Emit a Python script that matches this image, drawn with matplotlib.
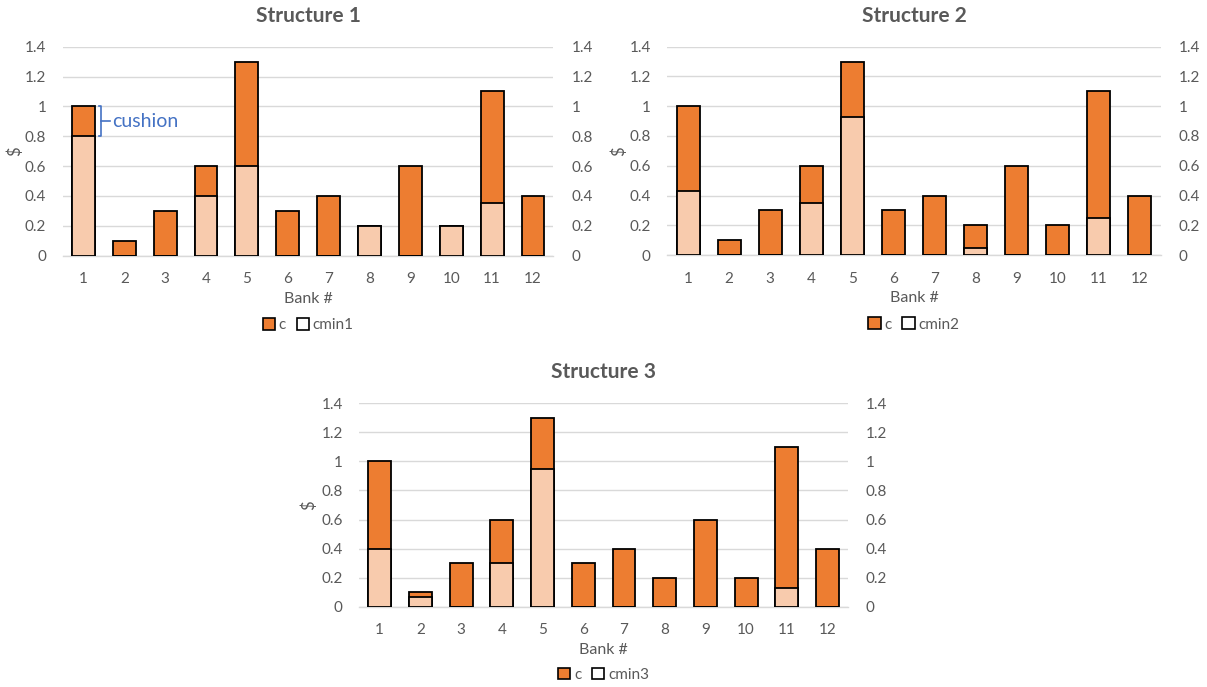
import matplotlib
matplotlib.use("Agg")
import matplotlib.pyplot as plt
from matplotlib.patches import Patch
import numpy as np

plt.rcParams['font.family'] = ['Lato', 'DejaVu Sans']

banks = [str(i) for i in range(1, 13)]
c = [1.0, 0.1, 0.3, 0.6, 1.3, 0.3, 0.4, 0.2, 0.6, 0.2, 1.1, 0.4]
cmin1 = [0.8, 0.0, 0.0, 0.4, 0.6, 0.0, 0.0, 0.2, 0.0, 0.2, 0.35, 0.0]
cmin2 = [0.43, 0.0, 0.0, 0.35, 0.93, 0.0, 0.0, 0.05, 0.0, 0.0, 0.25, 0.0]
cmin3 = [0.4, 0.07, 0.0, 0.3, 0.95, 0.0, 0.0, 0.0, 0.0, 0.0, 0.13, 0.0]
titles = ["Structure 1", "Structure 2", "Structure 3"]
cmin_names = ["cmin1", "cmin2", "cmin3"]
yticks = [0, 0.2, 0.4, 0.6, 0.8, 1.0, 1.2, 1.4]
ytick_labels = ["0", "0.2", "0.4", "0.6", "0.8", "1", "1.2", "1.4"]

ORANGE = "#ED7D31"
PEACH = "#F8CBAD"
GRAY = "#595959"
GRID = "#D9D9D9"

fig = plt.figure(figsize=(12.07, 6.87), dpi=100)

positions = [
    [0.0522, 0.6278, 0.4063, 0.3042],
    [0.5530, 0.6288, 0.4085, 0.3032],
    [0.2977, 0.1169, 0.4048, 0.2961],
]
ylabel_x = [-0.082, -0.082, -0.086]

for k, (pos, cm) in enumerate(zip(positions, [cmin1, cmin2, cmin3])):
    ax = fig.add_axes(pos)
    x = np.arange(1, 13)
    ax.bar(x, c, width=0.56, color=ORANGE, edgecolor="black", linewidth=1.3, zorder=3)
    ax.bar(x, cm, width=0.56, color=PEACH, edgecolor="black", linewidth=1.3, zorder=4)
    ax.set_xlim(0.5, 12.5)
    ax.set_ylim(0, 1.4)
    ax.set_yticks(yticks)
    ax.set_yticklabels(ytick_labels)
    ax.set_xticks(x)
    ax.set_xticklabels(banks)
    ax.grid(axis="y", color=GRID, linewidth=1.0, zorder=0)
    ax.set_axisbelow(True)
    for s in ["top", "right", "left"]:
        ax.spines[s].set_visible(False)
    ax.spines["bottom"].set_color(GRID)
    ax.spines["bottom"].set_linewidth(1.0)
    ax.tick_params(axis="both", length=0, labelsize=11, labelcolor=GRAY)
    ax.tick_params(axis="y", pad=12)
    ax.tick_params(axis="x", pad=12)
    ax.set_xlabel("Bank #", fontsize=11.5, color=GRAY, labelpad=4)
    ax.set_ylabel("$", fontsize=12, color=GRAY)
    ax.yaxis.set_label_coords(ylabel_x[k], 0.5)
    ax.set_title(titles[k], fontsize=15, fontweight="bold", color=GRAY, pad=18)

    ax2 = ax.twinx()
    ax2.set_ylim(0, 1.4)
    ax2.set_yticks(yticks)
    ax2.set_yticklabels(ytick_labels)
    ax2.tick_params(axis="y", length=0, labelsize=11, labelcolor=GRAY, pad=13)
    for s in ["top", "right", "left", "bottom"]:
        ax2.spines[s].set_visible(False)

    handles = [Patch(facecolor=ORANGE, edgecolor="black", linewidth=1.2),
               Patch(facecolor="white", edgecolor="black", linewidth=1.2)]
    ax.legend(handles, ["c", cmin_names[k]], loc="upper center",
              bbox_to_anchor=(0.5, -0.27), ncol=2, frameon=False,
              fontsize=11, labelcolor=GRAY, handlelength=0.8, handleheight=0.8,
              handletextpad=0.25, columnspacing=0.7, borderaxespad=0)

    if k == 0:
        blue = "#4472C4"
        bx = 1.42
        ax.plot([bx - 0.05, bx, bx, bx - 0.05], [1.0, 1.0, 0.8, 0.8],
                color=blue, linewidth=1.2, zorder=5, clip_on=False)
        ax.plot([bx, 1.65], [0.9, 0.9], color=blue, linewidth=1.2, zorder=5)
        ax.text(1.70, 0.9, "cushion", color=blue, fontsize=14,
                va="center", ha="left", zorder=5)

fig.savefig("out.png", dpi=100)
